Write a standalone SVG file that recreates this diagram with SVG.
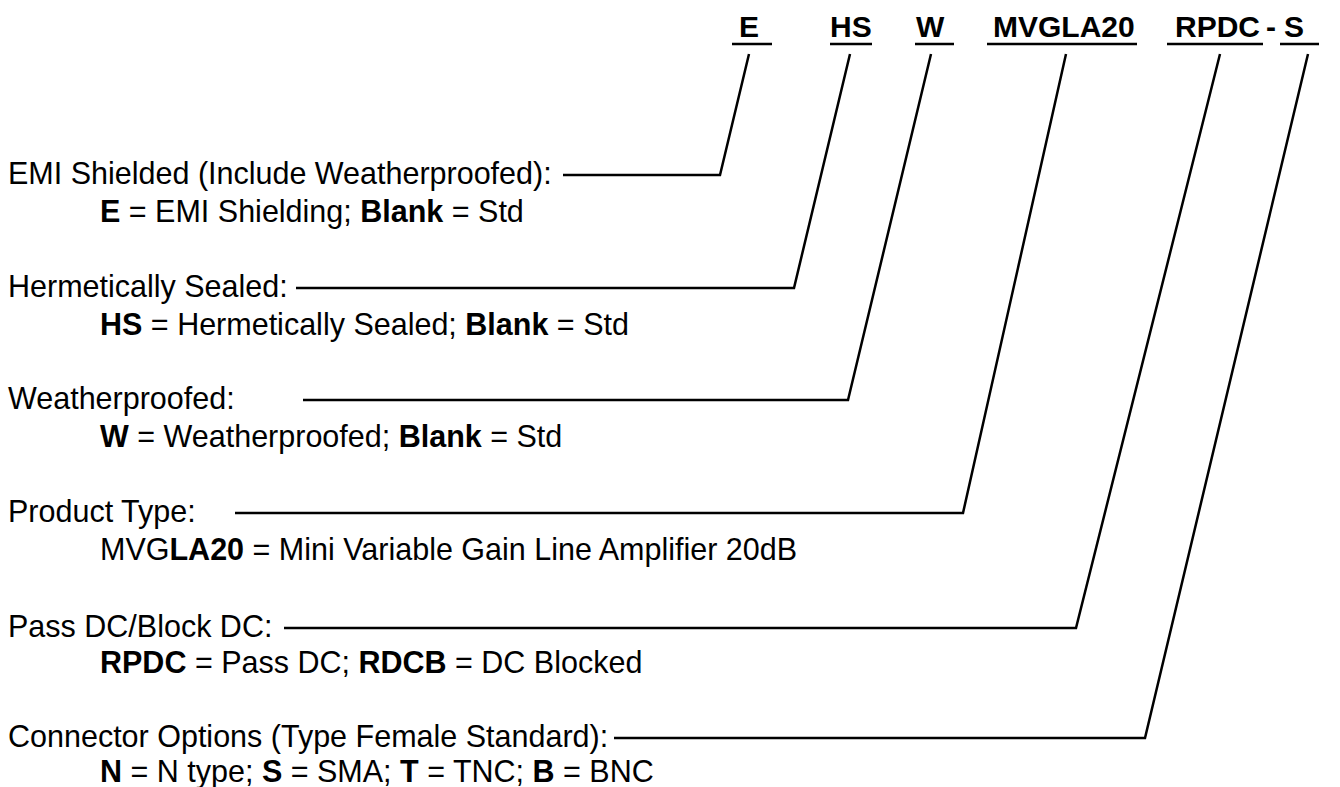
<svg xmlns="http://www.w3.org/2000/svg" width="1340" height="787" viewBox="0 0 1340 787">
<style>
text{font-family:"Liberation Sans",Arial,sans-serif;font-size:30.5px;fill:#000}
.h{font-size:30px;font-weight:bold}
.b{font-weight:bold}
.c{fill:none;stroke:#000;stroke-width:2.5;stroke-linejoin:miter}
.u{stroke:#000;stroke-width:2.5}
</style>
<rect width="1340" height="787" fill="#fff"/>
<g id="header">
<text class="h" x="739" y="37">E</text>
<text class="h" x="830" y="37">HS</text>
<text class="h" x="916" y="37">W</text>
<text class="h" x="993" y="37">MVGLA20</text>
<text class="h" x="1175" y="37">RPDC</text>
<text class="h" x="1266" y="37">-</text>
<text class="h" x="1284" y="37">S</text>
<line class="u" x1="732" y1="44" x2="772" y2="44"/>
<line class="u" x1="830" y1="44" x2="872" y2="44"/>
<line class="u" x1="915" y1="44" x2="954" y2="44"/>
<line class="u" x1="987" y1="44" x2="1137" y2="44"/>
<line class="u" x1="1167" y1="44" x2="1263" y2="44"/>
<line class="u" x1="1280" y1="44" x2="1319" y2="44"/>
</g>
<g id="connectors">
<polyline class="c" points="749,54 720,175 563,175"/>
<polyline class="c" points="850,54 794,288 296,288"/>
<polyline class="c" points="931,54 848,400 303,400"/>
<polyline class="c" points="1066,54 963,513 235,513"/>
<polyline class="c" points="1220,54 1076,628 284,628"/>
<polyline class="c" points="1308,54 1145,738 614,738"/>
</g>
<g id="emi">
<text x="8" y="184">EMI Shielded (Include Weatherproofed):</text>
<text x="100" y="222"><tspan class="b">E</tspan> = EMI Shielding; <tspan class="b">Blank</tspan> = Std</text>
</g>
<g id="hs">
<text x="8" y="297">Hermetically Sealed:</text>
<text x="100" y="335"><tspan class="b">HS</tspan> = Hermetically Sealed; <tspan class="b">Blank</tspan> = Std</text>
</g>
<g id="w">
<text x="8" y="409">Weatherproofed:</text>
<text x="100" y="447"><tspan class="b">W</tspan> = Weatherproofed; <tspan class="b">Blank</tspan> = Std</text>
</g>
<g id="product">
<text x="8" y="522">Product Type:</text>
<text x="100" y="560">MVG<tspan class="b">LA20</tspan> = Mini Variable Gain Line Amplifier 20dB</text>
</g>
<g id="passdc">
<text x="8" y="637">Pass DC/Block DC:</text>
<text x="100" y="673"><tspan class="b">RPDC</tspan> = Pass DC; <tspan class="b">RDCB</tspan> = DC Blocked</text>
</g>
<g id="connector">
<text x="8" y="747">Connector Options (Type Female Standard):</text>
<text x="100" y="782"><tspan class="b">N</tspan> = N type; <tspan class="b">S</tspan> = SMA; <tspan class="b">T</tspan> = TNC; <tspan class="b">B</tspan> = BNC</text>
</g>
</svg>
